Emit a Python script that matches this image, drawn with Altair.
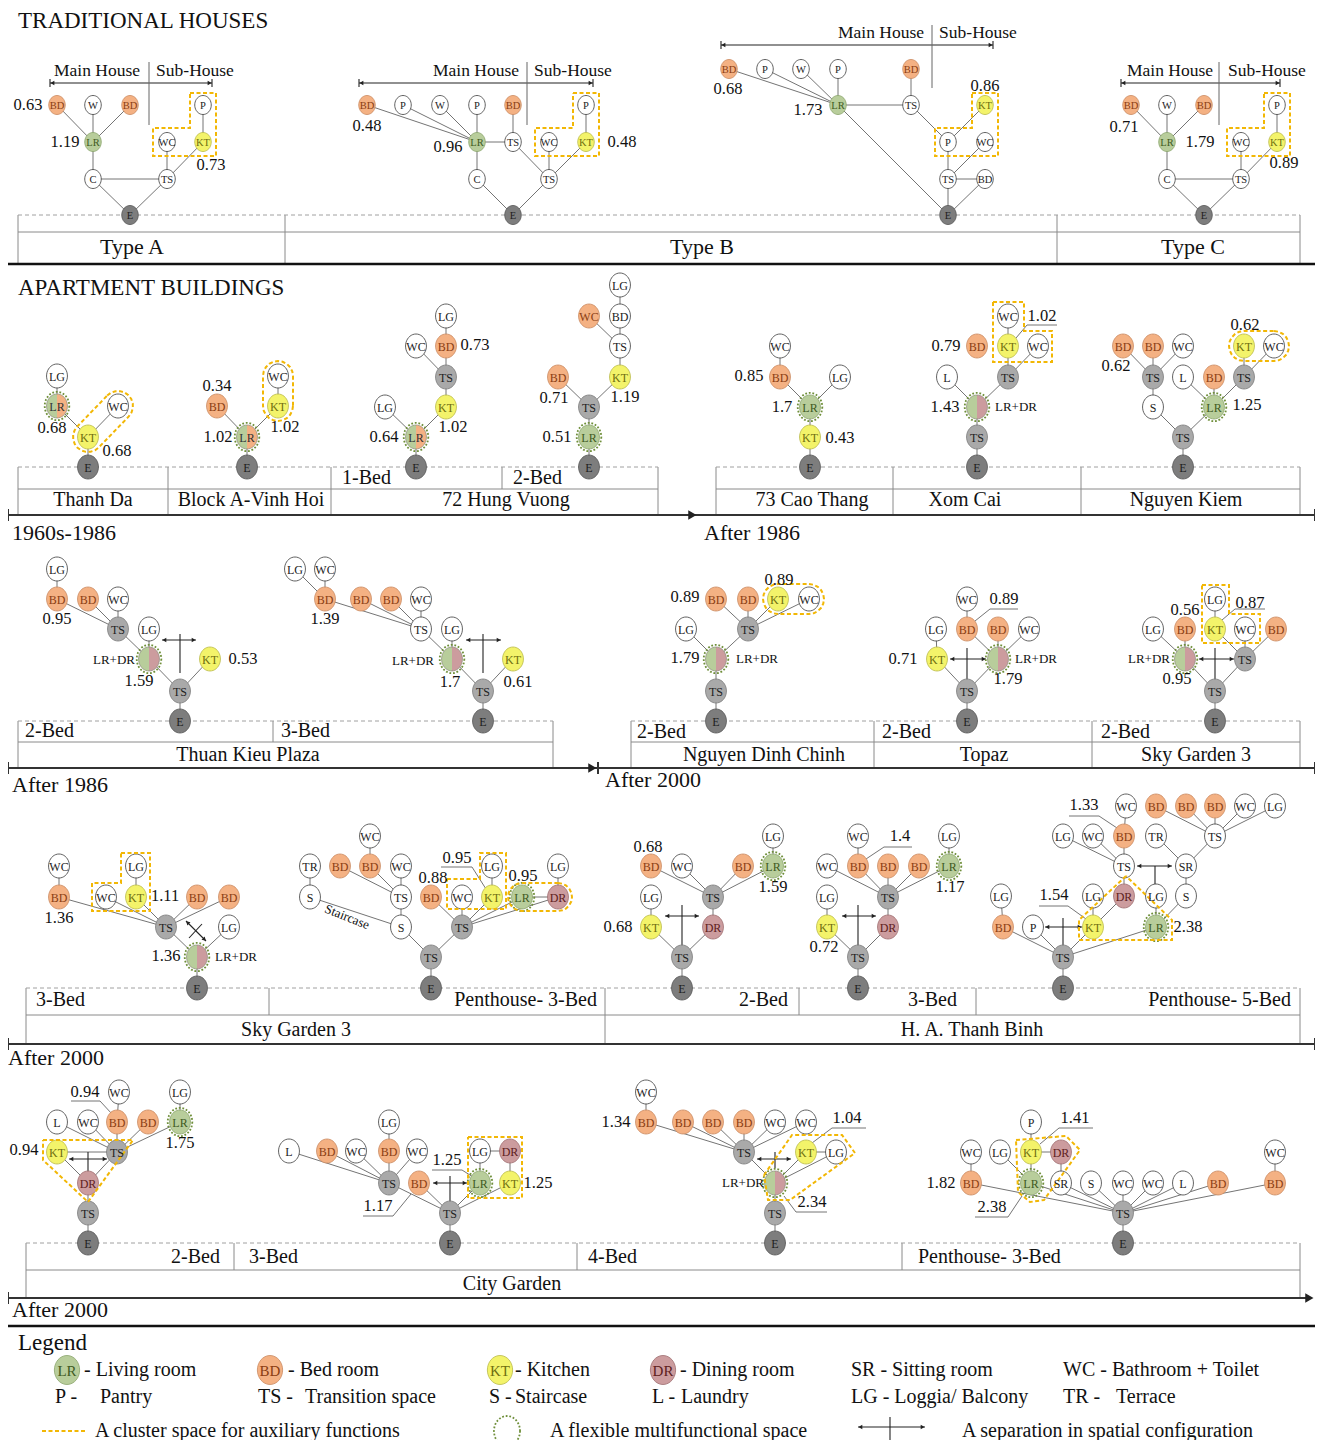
import math
import altair as alt
import pandas as pd

FONT = "Liberation Serif"

# ------------------------------------------------------------------ data
# node: (id, label, kind, x, y)
# kind: w white, bd bedroom, lr living, kt kitchen, dr dining, g grey transition,
#       e entrance, lb half LR/BD, ld half LR/DR ; trailing * = flexible space ring
TYPE_A_NODES = [("b1", "BD", "bd", 57, 105), ("w", "W", "w", 93, 105), ("b2", "BD", "bd", 130, 105),
                ("p", "P", "w", 203, 105), ("lr", "LR", "lr", 93, 142), ("wc", "WC", "w", 167, 142),
                ("kt", "KT", "kt", 203, 142), ("c", "C", "w", 93, 179), ("ts", "TS", "w", 167, 179),
                ("e", "E", "e", 130, 215)]
TYPE_A_EDGES = "b1-lr w-lr b2-lr lr-c c-ts c-e ts-e ts-wc ts-kt kt-p"

TYPE_B1_NODES = [("b1", "BD", "bd", 367, 105), ("p1", "P", "w", 403, 105), ("w", "W", "w", 440, 105),
                 ("p2", "P", "w", 477, 105), ("b2", "BD", "bd", 513, 105), ("p3", "P", "w", 586, 105),
                 ("lr", "LR", "lr", 477, 142), ("t1", "TS", "w", 513, 142), ("wc", "WC", "w", 549, 142),
                 ("kt", "KT", "kt", 586, 142), ("c", "C", "w", 477, 179), ("t2", "TS", "w", 549, 179),
                 ("e", "E", "e", 513, 215)]
TYPE_B1_EDGES = "b1-lr p1-lr w-lr p2-lr lr-t1 b2-t1 lr-c c-e t1-t2 t2-wc t2-kt kt-p3 t2-e"

TYPE_B2_NODES = [("b1", "BD", "bd", 729, 69), ("p1", "P", "w", 765, 69), ("w", "W", "w", 801, 69),
                 ("p2", "P", "w", 838, 69), ("b2", "BD", "bd", 911, 69), ("lr", "LR", "lr", 838, 105),
                 ("t1", "TS", "w", 911, 105), ("kt", "KT", "kt", 985, 105), ("p3", "P", "w", 948, 142),
                 ("wc", "WC", "w", 985, 142), ("t2", "TS", "w", 948, 179), ("b3", "BD", "w", 985, 179),
                 ("e", "E", "e", 948, 215)]
TYPE_B2_EDGES = "b1-lr p1-lr w-lr p2-lr lr-t1 b2-t1 t1-p3 kt-p3 p3-t2 wc-t2 t2-b3 t2-e b3-e lr-e"

TYPE_C_NODES = [("b1", "BD", "bd", 1131, 105), ("w", "W", "w", 1167, 105), ("b2", "BD", "bd", 1204, 105),
                ("p", "P", "w", 1277, 105), ("lr", "LR", "lr", 1167, 142), ("wc", "WC", "w", 1241, 142),
                ("kt", "KT", "kt", 1277, 142), ("c", "C", "w", 1167, 179), ("ts", "TS", "w", 1241, 179),
                ("e", "E", "e", 1204, 215)]
TYPE_C_EDGES = "b1-lr w-lr b2-lr lr-c c-ts c-e ts-e ts-wc ts-kt kt-p"

THANH_DA_NODES = [("lg", "LG", "w", 57, 376), ("lr", "LR", "lb*", 57, 406), ("wc", "WC", "w", 118, 406),
                  ("kt", "KT", "kt", 88, 437), ("e", "E", "e", 88, 467)]
THANH_DA_EDGES = "lg-lr lr-kt wc-kt kt-e"

VINH_HOI_NODES = [("bd", "BD", "bd", 217, 406), ("wc", "WC", "w", 278, 376), ("kt", "KT", "kt", 278, 406),
                  ("lr", "LR", "lb*", 247, 437), ("e", "E", "e", 247, 467)]
VINH_HOI_EDGES = "bd-lr kt-lr wc-kt lr-e"

HV1_NODES = [("lg1", "LG", "w", 446, 316), ("bd", "BD", "bd", 446, 346), ("wc", "WC", "w", 416, 346),
             ("ts", "TS", "g", 446, 377), ("lg2", "LG", "w", 385, 407), ("kt", "KT", "kt", 446, 407),
             ("lr", "LR", "lb*", 416, 437), ("e", "E", "e", 416, 467)]
HV1_EDGES = "lg1-bd bd-ts wc-ts ts-kt kt-lr lg2-lr lr-e"

HV2_NODES = [("lg", "LG", "w", 620, 285), ("wc", "WC", "bd", 589, 316), ("bd", "BD", "w", 620, 316),
             ("t1", "TS", "w", 620, 346), ("bd2", "BD", "bd", 558, 377), ("kt", "KT", "kt", 620, 377),
             ("t2", "TS", "g", 589, 407), ("lr", "LR", "lr*", 589, 437), ("e", "E", "e", 589, 467)]
HV2_EDGES = "lg-bd bd-t1 wc-t1 t1-kt kt-t2 bd2-t2 t2-lr lr-e"

CAO_THANG_NODES = [("wc", "WC", "w", 780, 346), ("bd", "BD", "bd", 780, 377), ("lg", "LG", "w", 840, 377),
                   ("lr", "LR", "lr*", 810, 407), ("kt", "KT", "kt", 810, 437), ("e", "E", "e", 810, 467)]
CAO_THANG_EDGES = "wc-bd bd-lr lg-lr lr-kt kt-e"

XOM_CAI_NODES = [("w1", "WC", "w", 1008, 316), ("bd", "BD", "bd", 977, 346), ("kt", "KT", "kt", 1008, 346),
                 ("w2", "WC", "w", 1038, 346), ("t1", "TS", "g", 1008, 377), ("l", "L", "w", 947, 377),
                 ("lr", "", "ld*", 977, 407), ("t2", "TS", "g", 977, 437), ("e", "E", "e", 977, 467)]
XOM_CAI_EDGES = "w1-kt kt-t1 w2-t1 t1-lr l-lr lr-t2 t2-e"

NGUYEN_KIEM_NODES = [("b1", "BD", "bd", 1123, 346), ("b2", "BD", "bd", 1153, 346), ("w1", "WC", "w", 1183, 346),
                     ("kt", "KT", "kt", 1244, 346), ("w2", "WC", "w", 1274, 346), ("t1", "TS", "g", 1153, 377),
                     ("l", "L", "w", 1183, 377), ("b3", "BD", "bd", 1214, 377), ("t2", "TS", "g", 1244, 377),
                     ("s", "S", "w", 1153, 407), ("lr", "LR", "lr*", 1214, 407), ("t3", "TS", "g", 1183, 437),
                     ("e", "E", "e", 1183, 467)]
NGUYEN_KIEM_EDGES = "b1-t1 b2-t1 w1-t1 t1-s s-t3 l-lr b3-lr t2-lr kt-t2 w2-t2 lr-t3 t3-e"

TK2_NODES = [("lg", "LG", "w", 57, 569), ("b1", "BD", "bd", 57, 599), ("b2", "BD", "bd", 88, 599),
             ("wc", "WC", "w", 118, 599), ("t1", "TS", "g", 118, 629), ("lg2", "LG", "w", 149, 629),
             ("lr", "", "ld*", 149, 659), ("kt", "KT", "kt", 210, 659), ("t2", "TS", "g", 180, 691),
             ("e", "E", "e", 180, 721)]
TK2_EDGES = "lg-b1 b1-t1 b2-t1 wc-t1 t1-lr lg2-lr lr-t2 kt-t2 t2-e"

TK3_NODES = [("lg", "LG", "w", 295, 569), ("w1", "WC", "w", 325, 569), ("b1", "BD", "bd", 325, 599),
             ("b2", "BD", "bd", 361, 599), ("b3", "BD", "bd", 391, 599), ("w2", "WC", "w", 421, 599),
             ("t1", "TS", "w", 421, 629), ("lg2", "LG", "w", 452, 629), ("lr", "", "ld*", 452, 659),
             ("kt", "KT", "kt", 513, 659), ("t2", "TS", "g", 483, 691), ("e", "E", "e", 483, 721)]
TK3_EDGES = "lg-b1 w1-b1 b1-t1 b2-t1 b3-t1 w2-t1 t1-lr lg2-lr lr-t2 kt-t2 t2-e"

NDC_NODES = [("b1", "BD", "bd", 716, 599), ("b2", "BD", "bd", 748, 599), ("kt", "KT", "kt", 778, 599),
             ("wc", "WC", "w", 809, 599), ("lg", "LG", "w", 686, 629), ("t1", "TS", "g", 748, 629),
             ("lr", "", "ld*", 716, 659), ("t2", "TS", "g", 716, 691), ("e", "E", "e", 716, 721)]
NDC_EDGES = "b1-t1 b2-t1 kt-t1 wc-t1 t1-lr lg-lr lr-t2 t2-e"

TOPAZ_NODES = [("wc", "WC", "w", 967, 599), ("lg", "LG", "w", 936, 629), ("b1", "BD", "bd", 967, 629),
               ("b2", "BD", "bd", 998, 629), ("w2", "WC", "w", 1029, 629), ("kt", "KT", "kt", 937, 659),
               ("lr", "", "ld*", 998, 659), ("ts", "TS", "g", 967, 691), ("e", "E", "e", 967, 721)]
TOPAZ_EDGES = "wc-b1 lg-kt b1-lr b2-lr w2-lr kt-ts lr-ts ts-e"

SG2_NODES = [("lg1", "LG", "w", 1215, 599), ("lg2", "LG", "w", 1153, 629), ("b1", "BD", "bd", 1185, 629),
             ("kt", "KT", "kt", 1215, 629), ("wc", "WC", "w", 1245, 629), ("b2", "BD", "bd", 1276, 629),
             ("lr", "", "ld*", 1185, 659), ("t1", "TS", "g", 1245, 659), ("t2", "TS", "g", 1215, 691),
             ("e", "E", "e", 1215, 721)]
SG2_EDGES = "lg1-kt lg2-lr b1-lr kt-t1 wc-t1 b2-t1 lr-t2 t1-t2 t2-e"

SG3_NODES = [("w1", "WC", "w", 59, 866), ("b1", "BD", "bd", 59, 897), ("w2", "WC", "w", 106, 897),
             ("kt", "KT", "kt", 136, 897), ("lg", "LG", "w", 136, 866), ("b2", "BD", "bd", 197, 897),
             ("b3", "BD", "bd", 229, 897), ("ts", "TS", "g", 166, 927), ("lg2", "LG", "w", 229, 927),
             ("lr", "", "ld*", 197, 957), ("e", "E", "e", 197, 988)]
SG3_EDGES = "w1-b1 b1-ts w2-ts kt-ts lg-kt b2-ts b3-ts ts-lr lg2-lr lr-e"

SGP_NODES = [("tr", "TR", "w", 310, 866), ("b1", "BD", "bd", 340, 866), ("w1", "WC", "w", 370, 836),
             ("b2", "BD", "bd", 370, 866), ("w2", "WC", "w", 401, 866), ("s1", "S", "w", 310, 897),
             ("t1", "TS", "w", 401, 897), ("s2", "S", "w", 401, 927), ("b3", "BD", "bd", 431, 897),
             ("w3", "WC", "w", 462, 897), ("kt", "KT", "kt", 492, 897), ("lg1", "LG", "w", 492, 866),
             ("lr", "LR", "lr*", 522, 897), ("dr", "DR", "dr", 558, 897), ("lg2", "LG", "w", 558, 866),
             ("t2", "TS", "g", 462, 927), ("t3", "TS", "g", 431, 957), ("e", "E", "e", 431, 988)]
SGP_EDGES = "tr-s1 s1-s2 w1-b2 b1-t1 b2-t1 w2-t1 t1-s2 s2-t3 b3-t2 w3-t2 kt-t2 lr-t2 dr-t2 lg1-kt lr-dr lg2-dr t2-t3 t3-e"

HAT2_NODES = [("b1", "BD", "bd", 651, 866), ("wc", "WC", "w", 682, 866), ("b2", "BD", "bd", 743, 866),
              ("lr", "LR", "lr*", 773, 866), ("lg1", "LG", "w", 773, 836), ("ts", "TS", "g", 713, 897),
              ("lg2", "LG", "w", 651, 897), ("kt", "KT", "kt", 651, 927), ("dr", "DR", "dr", 713, 927),
              ("t2", "TS", "g", 682, 957), ("e", "E", "e", 682, 988)]
HAT2_EDGES = "b1-ts wc-ts b2-ts lr-ts lg1-lr ts-dr lg2-kt kt-t2 dr-t2 t2-e"

HAT3_NODES = [("w1", "WC", "w", 858, 836), ("w2", "WC", "w", 827, 866), ("b1", "BD", "bd", 858, 866),
              ("b2", "BD", "bd", 888, 866), ("b3", "BD", "bd", 919, 866), ("lr", "LR", "lr*", 949, 866),
              ("lg1", "LG", "w", 949, 836), ("lg2", "LG", "w", 827, 897), ("ts", "TS", "g", 888, 897),
              ("kt", "KT", "kt", 827, 927), ("dr", "DR", "dr", 888, 927), ("t2", "TS", "g", 858, 957),
              ("e", "E", "e", 858, 988)]
HAT3_EDGES = "w1-b1 w2-ts b1-ts b2-ts b3-ts lr-ts lg1-lr lg2-kt ts-dr kt-t2 dr-t2 t2-e"

HAT5_NODES = [("a1", "WC", "w", 1126, 806), ("a2", "BD", "bd", 1156, 806), ("a3", "BD", "bd", 1186, 806),
              ("a4", "BD", "bd", 1215, 806), ("a5", "WC", "w", 1245, 806), ("a6", "LG", "w", 1275, 806),
              ("c1", "LG", "w", 1063, 836), ("c2", "WC", "w", 1093, 836), ("c3", "BD", "bd", 1124, 836),
              ("c4", "TR", "w", 1156, 836), ("c5", "TS", "w", 1215, 836), ("d1", "TS", "w", 1124, 866),
              ("d2", "SR", "w", 1186, 866), ("f1", "LG", "w", 1001, 896), ("f2", "LG", "w", 1093, 896),
              ("f3", "DR", "dr", 1124, 896), ("f4", "LG", "w", 1156, 896), ("f5", "S", "w", 1186, 896),
              ("g1", "BD", "bd", 1003, 927), ("g2", "P", "w", 1033, 927), ("g3", "KT", "kt", 1093, 927),
              ("g4", "LR", "lr*", 1156, 927), ("ts", "TS", "g", 1063, 957), ("e", "E", "e", 1063, 988)]
HAT5_EDGES = ("a1-c3 a2-c5 a3-c5 a4-c5 a5-c5 a6-c5 c1-d1 c2-d1 c3-d1 c4-d2 c5-d2 d1-f3 d2-f5 "
              "f5-g4 f3-g3 f2-g3 f4-g4 f1-g1 g1-ts g2-ts g3-ts g4-ts ts-e")

CG2_NODES = [("w1", "WC", "w", 119, 1092), ("lg", "LG", "w", 180, 1092), ("l", "L", "w", 57, 1122),
             ("w2", "WC", "w", 88, 1122), ("b1", "BD", "bd", 117, 1122), ("b2", "BD", "bd", 148, 1122),
             ("lr", "LR", "lr*", 180, 1122), ("kt", "KT", "kt", 57, 1152), ("t1", "TS", "g", 117, 1152),
             ("dr", "DR", "dr", 88, 1183), ("t2", "TS", "g", 88, 1213), ("e", "E", "e", 88, 1243)]
CG2_EDGES = "w1-b1 b1-t1 l-t1 w2-t1 b2-t1 lr-t1 lg-lr kt-t1 kt-dr t1-dr dr-t2 t2-e"

CG3_NODES = [("l", "L", "w", 289, 1151), ("b1", "BD", "bd", 327, 1151), ("w1", "WC", "w", 356, 1151),
             ("lg", "LG", "w", 389, 1122), ("b2", "BD", "bd", 389, 1151), ("w2", "WC", "w", 417, 1151),
             ("t1", "TS", "g", 389, 1183), ("b3", "BD", "bd", 419, 1183), ("lg2", "LG", "w", 480, 1151),
             ("dr", "DR", "dr", 510, 1151), ("lr", "LR", "lr*", 480, 1183), ("kt", "KT", "kt", 510, 1183),
             ("t2", "TS", "g", 450, 1213), ("e", "E", "e", 450, 1243)]
CG3_EDGES = "l-t1 b1-t1 w1-t1 lg-b2 b2-t1 w2-t1 t1-t2 b3-t2 lr-t2 kt-t2 lg2-dr lg2-lr dr-kt t2-e"

CG4_NODES = [("w1", "WC", "w", 646, 1092), ("b1", "BD", "bd", 646, 1122), ("b2", "BD", "bd", 683, 1122),
             ("b3", "BD", "bd", 713, 1122), ("b4", "BD", "bd", 744, 1122), ("w2", "WC", "w", 775, 1122),
             ("w3", "WC", "w", 806, 1122), ("ts", "TS", "g", 744, 1152), ("kt", "KT", "kt", 806, 1152),
             ("lg", "LG", "w", 836, 1152), ("lr", "", "ld*", 775, 1183), ("t2", "TS", "g", 775, 1213),
             ("e", "E", "e", 775, 1243)]
CG4_EDGES = "w1-b1 b1-ts b2-ts b3-ts b4-ts w2-ts w3-ts ts-lr kt-lg kt-lr lg-lr lr-t2 t2-e"

CGP_NODES = [("p", "P", "w", 1031, 1122), ("w1", "WC", "w", 971, 1152), ("lg", "LG", "w", 1000, 1152),
             ("kt", "KT", "kt", 1031, 1152), ("dr", "DR", "dr", 1061, 1152), ("w2", "WC", "w", 1275, 1152),
             ("b1", "BD", "bd", 971, 1183), ("lr", "LR", "lr*", 1031, 1183), ("sr", "SR", "w", 1061, 1183),
             ("s", "S", "w", 1091, 1183), ("w3", "WC", "w", 1123, 1183), ("w4", "WC", "w", 1153, 1183),
             ("l", "L", "w", 1183, 1183), ("b2", "BD", "bd", 1218, 1183), ("b3", "BD", "bd", 1275, 1183),
             ("ts", "TS", "g", 1123, 1213), ("e", "E", "e", 1123, 1243)]
CGP_EDGES = "p-kt w1-b1 lg-lr kt-lr kt-dr dr-sr b1-ts lr-ts sr-ts s-ts w3-ts w4-ts l-ts b2-ts b3-ts w2-b3 ts-e"

DIAGRAMS = [("ta", TYPE_A_NODES, TYPE_A_EDGES, 19), ("tb1", TYPE_B1_NODES, TYPE_B1_EDGES, 19),
            ("tb2", TYPE_B2_NODES, TYPE_B2_EDGES, 19), ("tc", TYPE_C_NODES, TYPE_C_EDGES, 19),
            ("td", THANH_DA_NODES, THANH_DA_EDGES, 24), ("ba", VINH_HOI_NODES, VINH_HOI_EDGES, 24),
            ("h1", HV1_NODES, HV1_EDGES, 24), ("h2", HV2_NODES, HV2_EDGES, 24),
            ("ct", CAO_THANG_NODES, CAO_THANG_EDGES, 24), ("xc", XOM_CAI_NODES, XOM_CAI_EDGES, 24),
            ("nk", NGUYEN_KIEM_NODES, NGUYEN_KIEM_EDGES, 24), ("k2", TK2_NODES, TK2_EDGES, 24),
            ("k3", TK3_NODES, TK3_EDGES, 24), ("nd", NDC_NODES, NDC_EDGES, 24),
            ("tp", TOPAZ_NODES, TOPAZ_EDGES, 24), ("s2", SG2_NODES, SG2_EDGES, 24),
            ("s3", SG3_NODES, SG3_EDGES, 24), ("sp", SGP_NODES, SGP_EDGES, 24),
            ("t2", HAT2_NODES, HAT2_EDGES, 24), ("t3", HAT3_NODES, HAT3_EDGES, 24),
            ("t5", HAT5_NODES, HAT5_EDGES, 24), ("g2", CG2_NODES, CG2_EDGES, 24),
            ("g3", CG3_NODES, CG3_EDGES, 24), ("g4", CG4_NODES, CG4_EDGES, 24),
            ("gp", CGP_NODES, CGP_EDGES, 24)]

# integration values: (text, x, y)
VALUE_LABELS = [
    ("0.63", 28, 105), ("1.19", 65, 142), ("0.73", 211, 165),
    ("0.48", 367, 126), ("0.96", 448, 147), ("0.48", 622, 142),
    ("0.68", 728, 89), ("1.73", 808, 110), ("0.86", 985, 86),
    ("0.71", 1124, 127), ("1.79", 1200, 142), ("0.89", 1284, 163),
    ("0.68", 52, 428), ("0.68", 117, 451), ("0.34", 217, 386), ("1.02", 285, 427), ("1.02", 218, 437),
    ("0.73", 475, 345), ("1.02", 453, 427), ("0.64", 384, 437), ("0.71", 554, 398), ("1.19", 625, 397),
    ("0.51", 557, 437), ("0.85", 749, 376), ("1.7", 782, 407), ("0.43", 840, 438), ("1.02", 1042, 316),
    ("0.79", 946, 346), ("1.43", 945, 407), ("0.62", 1245, 325), ("0.62", 1116, 366), ("1.25", 1247, 405),
    ("0.95", 57, 619), ("1.59", 139, 681), ("0.53", 243, 659), ("1.39", 325, 619), ("1.7", 450, 682),
    ("0.61", 518, 682), ("0.89", 685, 597), ("0.89", 779, 580), ("1.79", 685, 658), ("0.89", 1004, 599),
    ("0.71", 903, 659), ("1.79", 1008, 679), ("0.56", 1185, 610), ("0.87", 1250, 603), ("0.95", 1177, 679),
    ("1.36", 59, 918), ("1.11", 165, 896), ("1.36", 166, 956), ("0.88", 433, 878), ("0.95", 457, 858),
    ("0.95", 523, 876), ("0.68", 648, 847), ("1.59", 773, 887), ("0.68", 618, 927), ("1.4", 900, 836),
    ("1.17", 950, 887), ("0.72", 824, 947), ("1.33", 1084, 805), ("1.54", 1054, 895), ("2.38", 1188, 927),
    ("0.94", 85, 1092), ("1.75", 180, 1143), ("0.94", 24, 1150), ("1.17", 378, 1206), ("1.25", 447, 1160),
    ("1.25", 538, 1183), ("1.34", 616, 1122), ("1.04", 847, 1118), ("2.34", 812, 1202), ("1.41", 1075, 1118),
    ("1.82", 941, 1183), ("2.38", 992, 1207)]
LRDR_LABELS = [(1016, 407), (114, 660), (413, 661), (757, 659), (1036, 659), (1149, 659), (236, 957), (743, 1183)]

# text: (text, x, y, size, align)
HEADINGS = [("TRADITIONAL HOUSES", 18, 21, 23, "left"), ("APARTMENT BUILDINGS", 18, 288, 23, "left"),
            ("Type A", 132, 247, 22, "center"), ("Type B", 702, 247, 22, "center"),
            ("Type C", 1193, 247, 22, "center"), ("Legend", 18, 1343, 23, "left"),
            ("1960s-1986", 12, 533, 22, "left"), ("After 1986", 704, 533, 22, "left"),
            ("After 1986", 12, 785, 22, "left"), ("After 2000", 605, 780, 22, "left"),
            ("After 2000", 8, 1058, 22, "left"), ("After 2000", 12, 1310, 22, "left")]
HOUSE_PARTS = [("Main House", 97, 71), ("Sub-House", 195, 71), ("Main House", 476, 71), ("Sub-House", 573, 71),
               ("Main House", 881, 33), ("Sub-House", 978, 33), ("Main House", 1170, 71), ("Sub-House", 1267, 71)]
BOX_LABELS = [("Thanh Da", 93, 500, "center"), ("Block A-Vinh Hoi", 251, 500, "center"),
              ("72 Hung Vuong", 506, 500, "center"), ("1-Bed", 342, 478, "left"), ("2-Bed", 513, 478, "left"),
              ("73 Cao Thang", 812, 500, "center"), ("Xom Cai", 965, 500, "center"),
              ("Nguyen Kiem", 1186, 500, "center"),
              ("2-Bed", 25, 731, "left"), ("3-Bed", 281, 731, "left"), ("Thuan Kieu Plaza", 248, 755, "center"),
              ("2-Bed", 637, 732, "left"), ("2-Bed", 882, 732, "left"), ("2-Bed", 1101, 732, "left"),
              ("Nguyen Dinh Chinh", 764, 755, "center"), ("Topaz", 984, 755, "center"),
              ("Sky Garden 3", 1196, 755, "center"),
              ("3-Bed", 36, 1000, "left"), ("Penthouse- 3-Bed", 597, 1000, "right"),
              ("Sky Garden 3", 296, 1030, "center"), ("2-Bed", 788, 1000, "right"), ("3-Bed", 957, 1000, "right"),
              ("Penthouse- 5-Bed", 1291, 1000, "right"), ("H. A. Thanh Binh", 972, 1030, "center"),
              ("2-Bed", 220, 1257, "right"), ("3-Bed", 249, 1257, "left"), ("4-Bed", 588, 1257, "left"),
              ("Penthouse- 3-Bed", 918, 1257, "left"), ("City Garden", 512, 1284, "center")]
LEGEND_TEXT = [("- Living room", 84, 1370), ("- Bed room", 288, 1370), ("- Kitchen", 515, 1370),
               ("- Dining room", 680, 1370), ("SR - Sitting room", 851, 1370), ("WC - Bathroom + Toilet", 1063, 1370),
               ("P -", 55, 1397), ("Pantry", 100, 1397), ("TS -", 258, 1397), ("Transition space", 305, 1397),
               ("S -", 489, 1397), ("Staircase", 515, 1397), ("L -", 652, 1397), ("Laundry", 681, 1397),
               ("LG - Loggia/ Balcony", 851, 1397), ("TR -", 1063, 1397), ("Terrace", 1116, 1397),
               ("A cluster space for auxiliary functions", 95, 1431), ("A flexible multifunctional space", 550, 1431),
               ("A separation in spatial configuration", 962, 1431)]
LEGEND_NODES = [("LR", "lr", 67, 1370), ("BD", "bd", 270, 1370), ("KT", "kt", 500, 1370), ("DR", "dr", 663, 1370)]

# lines: (x, y, x2, y2)
BOX_DASHED = [(18, 215, 1300, 215), (18, 467, 658, 467), (716, 467, 1300, 467), (18, 721, 553, 721),
              (631, 721, 1300, 721), (26, 988, 1300, 988), (26, 1243, 1300, 1243)]
BOX_SOLID = [(18, 232, 1300, 232), (18, 215, 18, 264), (285, 215, 285, 264), (1057, 215, 1057, 264),
             (1300, 215, 1300, 264),
             (18, 489, 658, 489), (18, 467, 18, 515), (168, 467, 168, 515), (331, 467, 331, 515),
             (502, 467, 502, 489), (658, 467, 658, 515), (716, 489, 1300, 489), (716, 467, 716, 515),
             (893, 467, 893, 515), (1081, 467, 1081, 515), (1300, 467, 1300, 515),
             (18, 742, 553, 742), (18, 721, 18, 768), (273, 721, 273, 742), (553, 721, 553, 768),
             (631, 742, 1300, 742), (631, 721, 631, 768), (874, 721, 874, 768), (1092, 721, 1092, 768),
             (1300, 721, 1300, 768),
             (26, 1015, 1300, 1015), (26, 988, 26, 1044), (269, 988, 269, 1015), (605, 988, 605, 1044),
             (799, 988, 799, 1015), (976, 988, 976, 1015), (1300, 988, 1300, 1044),
             (26, 1270, 1300, 1270), (26, 1243, 26, 1298), (234, 1243, 234, 1270), (577, 1243, 577, 1270),
             (902, 1243, 902, 1270), (1300, 1243, 1300, 1298)]
DIVIDERS = [(149, 62, 149, 125), (527, 62, 527, 125), (932, 25, 932, 88), (1219, 62, 1219, 125)]
SPAN_ARROWS = [(50, 212, 83), (359, 593, 83), (721, 993, 45), (1121, 1280, 83)]
TIMELINES = [(8, 1315, 515), (8, 1315, 768), (8, 1315, 1044), (8, 1309, 1298)]
TIMELINE_TICKS = [(8, 515), (1315, 515), (8, 768), (598, 768), (1315, 768), (8, 1044), (1315, 1044), (8, 1298)]
TIMELINE_HEADS = [(691, 515), (591, 768), (1308, 1298)]
THICK_LINES = [(8, 264, 1315, 264), (8, 1326, 1315, 1326)]
# separation icon: (x0, x1, y, vx, vy0, vy1)
SEPARATIONS = [(162, 196, 640, 180, 634, 673), (466, 501, 640, 483, 634, 673), (950, 986, 659, 967, 648, 680),
               (1199, 1234, 659, 1215, 648, 680), (665, 699, 916, 682, 905, 948), (842, 876, 916, 858, 905, 948),
               (1137, 1172, 866, 1155, 866, 890), (1045, 1082, 927, 1063, 918, 948),
               (69, 107, 1159, 88, 1152, 1172), (433, 467, 1183, 450, 1176, 1205),
               (757, 791, 1159, 775, 1152, 1168), (858, 925, 1427, 890, 1417, 1448)]
DIAG_SEPARATION = [(186, 921, 206, 941), (189, 938, 202, 924)]
LEADERS = [(1027, 325, 1057, 325), (1027, 325, 1016, 338), (990, 609, 1018, 609), (990, 609, 975, 621),
           (1235, 609, 1265, 609), (1235, 609, 1222, 620), (441, 867, 472, 867), (472, 867, 486, 889),
           (884, 847, 912, 847), (884, 847, 866, 859), (1069, 816, 1099, 816), (1099, 816, 1117, 828),
           (1039, 906, 1068, 906), (1068, 906, 1086, 919), (71, 1101, 100, 1101), (100, 1101, 112, 1114),
           (363, 1216, 393, 1216), (393, 1216, 411, 1194), (432, 1170, 462, 1170), (462, 1170, 473, 1177),
           (832, 1128, 866, 1128), (832, 1128, 812, 1143), (796, 1212, 827, 1212), (796, 1212, 784, 1196),
           (1059, 1128, 1093, 1128), (1059, 1128, 1040, 1144), (975, 1217, 1008, 1217), (1008, 1217, 1022, 1196)]

# clusters of auxiliary functions (dashed yellow outlines)
CLUSTER_POLYS = [
    [(190, 93), (216, 93), (216, 156), (153, 156), (153, 128), (190, 128)],
    [(573, 93), (599, 93), (599, 156), (535, 156), (535, 128), (573, 128)],
    [(972, 93), (998, 93), (998, 156), (935, 156), (935, 128), (972, 128)],
    [(1264, 93), (1290, 93), (1290, 156), (1227, 156), (1227, 128), (1264, 128)],
    [(993, 302), (1024, 302), (1024, 331), (1052, 331), (1052, 362), (993, 362)],
    [(1202, 585), (1229, 585), (1229, 614), (1260, 614), (1260, 643), (1202, 643)],
    [(121, 853), (150, 853), (150, 911), (92, 911), (92, 883), (121, 883)],
    [(447, 879), (480, 879), (480, 853), (506, 853), (506, 909), (447, 909)],
    [(1126, 876), (1079, 920), (1079, 940), (1172, 940), (1172, 920)],
    [(43, 1140), (133, 1140), (88, 1202), (43, 1160)],
    [(468, 1137), (522, 1137), (522, 1198), (468, 1198)],
    [(764, 1175), (792, 1135), (842, 1135), (855, 1153), (790, 1200), (768, 1200)],
    [(1016, 1140), (1066, 1136), (1080, 1150), (1044, 1200), (1030, 1202), (1018, 1192)],
]
CLUSTER_CAPSULES = [("td", "kt", "wc", 15), ("ba", "wc", "kt", 15), ("nk", "kt", "w2", 15),
                    ("nd", "kt", "wc", 15), ("sp", "lr", "dr", 14)]
LEGEND_DASH = [(42, 1431), (85, 1431)]
LEGEND_RING = (507, 1431)

FILL = {"w": "#ffffff", "bd": "#f4b183", "lr": "#b8cd9b", "kt": "#f3f36a", "dr": "#cc9c9e",
        "g": "#a9a9a9", "e": "#7d7d7d"}
STROKE = {"w": "#3a3a3a", "bd": "#c98a62", "lr": "#8aa46c", "kt": "#b9b94a", "dr": "#9e6d70",
          "g": "#7a7a7a", "e": "#555555"}
TEXTC = {"w": "#222222", "bd": "#8a3d12", "lr": "#3f5a22", "kt": "#6e6e10", "dr": "#5e2020",
         "g": "#1e1e1e", "e": "#1e1e1e"}
HALF_RIGHT = {"lb": "#f4b183", "ld": "#cc9c9e"}


# ------------------------------------------------------------------ shapes
def ellipse_path(rx, ry, a0, a1, n=40):
    pts = []
    for i in range(n + 1):
        t = a0 + (a1 - a0) * i / n
        pts.append((rx * math.cos(t), ry * math.sin(t)))
    return "M" + " L".join(f"{x:.3f},{y:.3f}" for x, y in pts) + " Z"


RX = 0.87
FULL = ellipse_path(RX, 1, 0, 2 * math.pi)
LEFT = ellipse_path(RX, 1, math.pi / 2, 3 * math.pi / 2)
RIGHT = ellipse_path(RX, 1, -math.pi / 2, math.pi / 2)


def capsule(p, q, r, n=10):
    (x1, y1), (x2, y2) = p, q
    base = math.atan2(y2 - y1, x2 - x1)
    pts = []
    for i in range(n + 1):
        t = base - math.pi / 2 + math.pi * i / n
        pts.append((x2 + r * math.cos(t), y2 + r * math.sin(t)))
    for i in range(n + 1):
        t = base + math.pi / 2 + math.pi * i / n
        pts.append((x1 + r * math.cos(t), y1 + r * math.sin(t)))
    return pts


# ------------------------------------------------------------------ tables
nodes, segs, texts, polys, heads, rings = [], [], [], [], [], []


def seg(a, style):
    segs.append(dict(x=a[0], y=a[1], x2=a[2], y2=a[3], style=style))


def txt(t, x, y, size, align="center", color="#111111", angle=0):
    texts.append(dict(t=t, x=x, y=y, size=size, align=align, color=color, angle=angle))


pos = {}
for key, nlist, elist, h in DIAGRAMS:
    for nid, label, kind, x, y in nlist:
        flex = kind.endswith("*")
        k = kind.rstrip("*")
        pos[(key, nid)] = (x, y)
        nodes.append(dict(x=x, y=y, label=label, kind=k, size=h * h, fs=10.5 if h < 21 else 12))
        if flex:
            rings.append(dict(x=x, y=y, size=(h * 1.18) ** 2))
    for e in elist.split():
        a, b = e.split("-")
        (x1, y1), (x2, y2) = pos[(key, a)], pos[(key, b)]
        seg((x1, y1, x2, y2), "edge")

for label, kind, x, y in LEGEND_NODES:
    nodes.append(dict(x=x, y=y, label=label, kind=kind, size=29 * 29, fs=15))
rings.append(dict(x=LEGEND_RING[0], y=LEGEND_RING[1], size=30 * 30))

for t, x, y in VALUE_LABELS:
    txt(t, x, y, 16.5)
for x, y in LRDR_LABELS:
    txt("LR+DR", x, y, 13)
txt("Staircase", 347, 917, 13, angle=22)
for t, x, y, s, al in HEADINGS:
    txt(t, x, y, s, al)
for t, x, y in HOUSE_PARTS:
    txt(t, x, y, 17.5)
for t, x, y, al in BOX_LABELS:
    txt(t, x, y, 20, al)
for t, x, y in LEGEND_TEXT:
    txt(t, x, y, 20, "left")

for a in BOX_DASHED:
    seg(a, "dash")
for a in BOX_SOLID:
    seg(a, "box")
for a in DIVIDERS:
    seg(a, "div")
for x0, x1, y in SPAN_ARROWS:
    seg((x0, y, x1, y), "sep")
    seg((x0, y - 4, x0, y + 4), "sep")
    seg((x1, y - 4, x1, y + 4), "sep")
    heads.append(dict(x=x0 + 3, y=y, angle=270, size=22))
    heads.append(dict(x=x1 - 3, y=y, angle=90, size=22))
for x0, x1, y in TIMELINES:
    seg((x0, y, x1, y), "axis")
for x, y in TIMELINE_TICKS:
    seg((x, y - 6, x, y + 6), "axis")
for x, y in TIMELINE_HEADS:
    heads.append(dict(x=x, y=y, angle=90, size=90))
for a in THICK_LINES:
    seg(a, "thick")
seg((8, 1, 1315, 1), "light")
for x0, x1, y, vx, vy0, vy1 in SEPARATIONS:
    seg((x0, y, x1, y), "sep")
    seg((vx, vy0, vx, vy1), "sep")
    heads.append(dict(x=x0 + 3, y=y, angle=270, size=20))
    heads.append(dict(x=x1 - 3, y=y, angle=90, size=20))
seg(DIAG_SEPARATION[0], "sep")
seg(DIAG_SEPARATION[1], "sep")
d = DIAG_SEPARATION[0]
heads.append(dict(x=d[0] + 2, y=d[1] + 2, angle=315, size=20))
heads.append(dict(x=d[2] - 2, y=d[3] - 2, angle=135, size=20))
for a in LEADERS:
    seg(a, "lead")

cid = 0
for poly in CLUSTER_POLYS:
    for i, (x, y) in enumerate(poly + [poly[0]]):
        polys.append(dict(cid=cid, o=i, x=x, y=y))
    cid += 1
for key, a, b, r in CLUSTER_CAPSULES:
    pts = capsule(pos[(key, a)], pos[(key, b)], r)
    for i, (x, y) in enumerate(pts + [pts[0]]):
        polys.append(dict(cid=cid, o=i, x=x, y=y))
    cid += 1
for i, (x, y) in enumerate(LEGEND_DASH):
    polys.append(dict(cid=cid, o=i, x=x, y=y))

ndf = pd.DataFrame(nodes)
ndf["fill"] = ndf["kind"].map(lambda k: FILL.get(k, "#b8cd9b"))
ndf["stroke"] = ndf["kind"].map(lambda k: STROKE.get(k, "#7a7a7a"))
ndf["tc"] = ndf["kind"].map(lambda k: TEXTC.get(k, "#333333"))
full_df = ndf[~ndf["kind"].isin(["lb", "ld"])]
half_df = ndf[ndf["kind"].isin(["lb", "ld"])].copy()
half_df["rfill"] = half_df["kind"].map(HALF_RIGHT)
seg_df = pd.DataFrame(segs)
txt_df = pd.DataFrame(texts)
poly_df = pd.DataFrame(polys)
head_df = pd.DataFrame(heads)
ring_df = pd.DataFrame(rings)

# ------------------------------------------------------------------ chart
XS = alt.Scale(domain=[8, 1315], nice=False, zero=False)
YS = alt.Scale(domain=[8, 1440], nice=False, zero=False, reverse=True)
X = alt.X("x:Q", scale=XS, axis=None)
Y = alt.Y("y:Q", scale=YS, axis=None)

STYLES = {"edge": ("#505050", 0.8, None), "lead": ("#505050", 0.8, None), "box": ("#8a8a8a", 1.0, None),
          "dash": ("#a0a0a0", 1.0, [4, 3]), "thick": ("#111111", 2.4, None), "axis": ("#333333", 2.0, None),
          "sep": ("#222222", 1.1, None), "div": ("#666666", 1.0, None), "light": ("#9a9a9a", 1.5, None)}

layers = []
for style, (col, w, dash) in STYLES.items():
    sub = seg_df[seg_df["style"] == style]
    if len(sub) == 0:
        continue
    kw = dict(color=col, strokeWidth=w)
    if dash:
        kw["strokeDash"] = dash
    layers.append(alt.Chart(sub).mark_rule(**kw).encode(x=X, y=Y, x2="x2:Q", y2="y2:Q"))

layers.append(alt.Chart(head_df).mark_point(shape="triangle", filled=True, opacity=1, color="#222222").encode(
    x=X, y=Y, angle=alt.Angle("angle:Q", scale=None), size=alt.Size("size:Q", scale=None)))

layers.append(alt.Chart(full_df).mark_point(shape=FULL, filled=True, opacity=1, strokeWidth=0.8).encode(
    x=X, y=Y, fill=alt.Fill("fill:N", scale=None), stroke=alt.Stroke("stroke:N", scale=None),
    size=alt.Size("size:Q", scale=None)))
layers.append(alt.Chart(half_df).mark_point(shape=LEFT, filled=True, opacity=1, strokeWidth=0).encode(
    x=X, y=Y, fill=alt.value("#b8cd9b"), size=alt.Size("size:Q", scale=None)))
layers.append(alt.Chart(half_df).mark_point(shape=RIGHT, filled=True, opacity=1, strokeWidth=0).encode(
    x=X, y=Y, fill=alt.Fill("rfill:N", scale=None), size=alt.Size("size:Q", scale=None)))
layers.append(alt.Chart(half_df).mark_point(shape=FULL, filled=False, opacity=1, strokeWidth=0.7,
                                            color="#8a8a7a").encode(
    x=X, y=Y, size=alt.Size("size:Q", scale=None)))
layers.append(alt.Chart(ring_df).mark_point(shape=FULL, filled=False, opacity=1, strokeWidth=1.8,
                                            strokeDash=[1.8, 1.8], color="#6f8f3a").encode(
    x=X, y=Y, size=alt.Size("size:Q", scale=None)))

layers.append(alt.Chart(poly_df).mark_line(color="#f2b705", strokeWidth=2, strokeDash=[4, 2.5]).encode(
    x=X, y=Y, detail="cid:N", order="o:Q"))

layers.append(alt.Chart(ndf).mark_text(font=FONT, baseline="middle", align="center", dy=0.5).encode(
    x=X, y=Y, text="label:N", size=alt.Size("fs:Q", scale=None), color=alt.Color("tc:N", scale=None)))

for al in ["left", "center", "right"]:
    sub = txt_df[txt_df["align"] == al]
    if len(sub) == 0:
        continue
    layers.append(alt.Chart(sub).mark_text(font=FONT, baseline="middle", align=al).encode(
        x=X, y=Y, text="t:N", size=alt.Size("size:Q", scale=None), color=alt.Color("color:N", scale=None),
        angle=alt.Angle("angle:Q", scale=None)))

chart = alt.layer(*layers).properties(
    width=1307, height=1432, padding=0, autosize="none", background="white"
).configure_view(stroke=None)

chart.save("out.html", embed_options={"renderer": "svg", "actions": False})
